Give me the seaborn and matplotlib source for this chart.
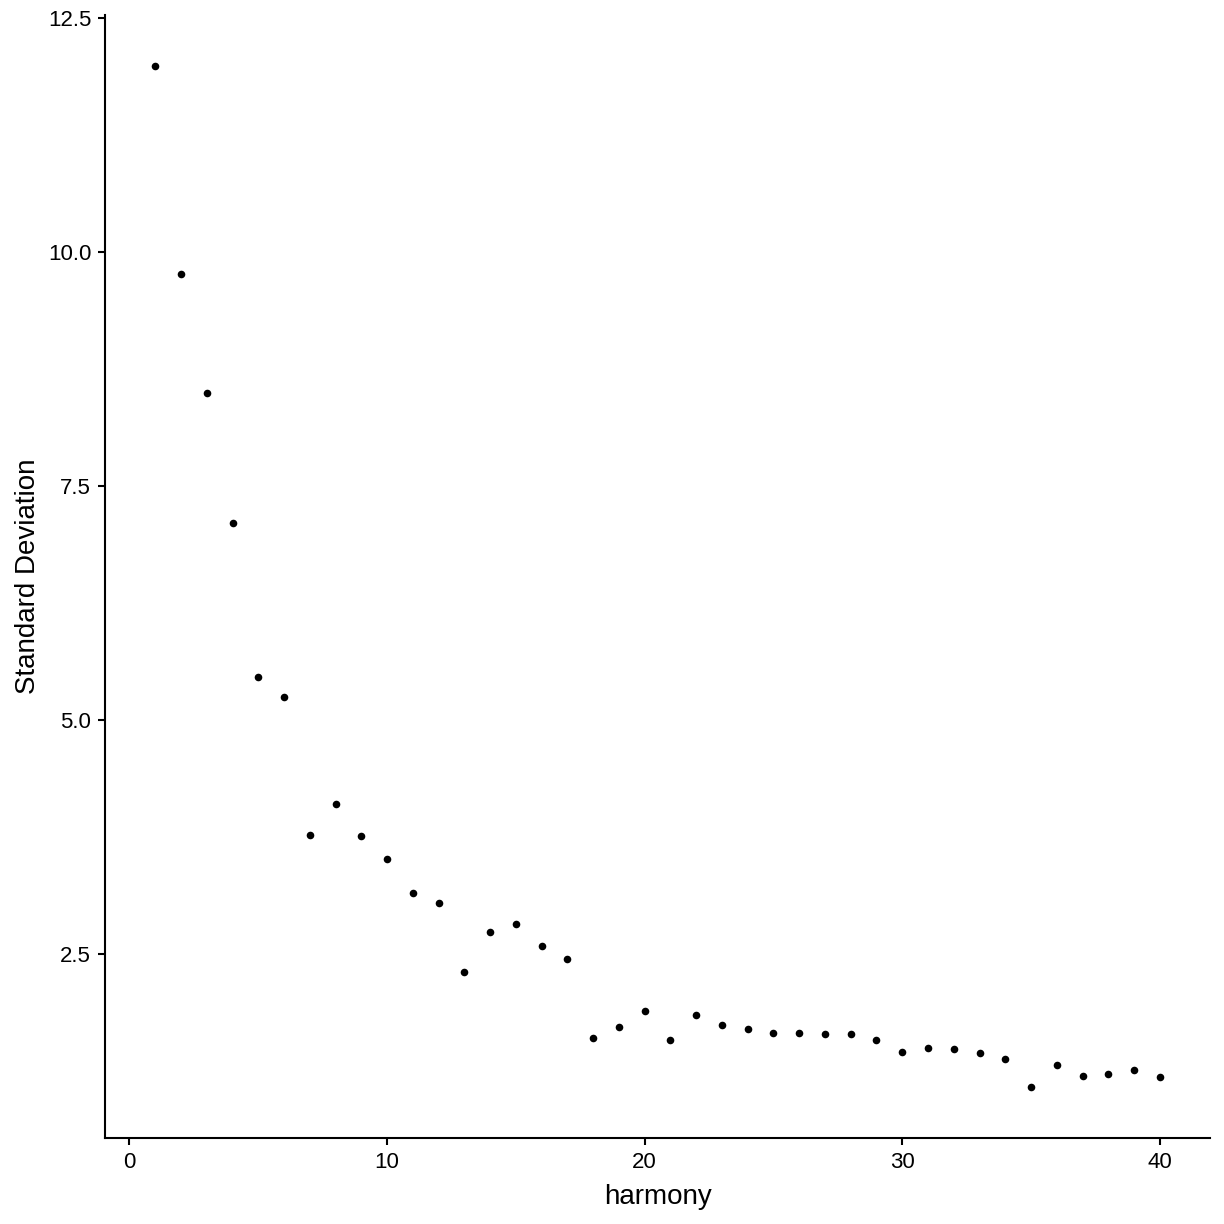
import matplotlib
matplotlib.use("Agg")
import matplotlib.pyplot as plt
import seaborn as sns
import pandas as pd

dims = list(range(1, 41))
stdev = [11.99, 9.77, 8.49, 7.10, 5.46, 5.25, 3.77, 4.10, 3.76, 3.52,
         3.15, 3.05, 2.31, 2.73, 2.82, 2.58, 2.45, 1.60, 1.72, 1.89,
         1.58, 1.85, 1.74, 1.70, 1.66, 1.66, 1.64, 1.64, 1.58, 1.45,
         1.50, 1.48, 1.44, 1.38, 1.08, 1.31, 1.20, 1.22, 1.26, 1.19]
xticks = [0, 10, 20, 30, 40]
yticks = [2.5, 5.0, 7.5, 10.0, 12.5]
ytick_labels = ["2.5", "5.0", "7.5", "10.0", "12.5"]

sns.set_style("ticks")
plt.rcParams['font.family'] = ['Liberation Sans', 'DejaVu Sans']

df = pd.DataFrame({"harmony": dims, "Standard Deviation": stdev})

fig = plt.figure(figsize=(12.24, 12.24), dpi=100)
ax = fig.add_axes([0.0858, 0.0703, 0.9886 - 0.0858, 0.988 - 0.0703])
sns.scatterplot(data=df, x="harmony", y="Standard Deviation", ax=ax,
                color="black", s=30, linewidth=0, edgecolor=None)

xr = max(dims) - min(dims)
ax.set_xlim(min(dims) - 0.05 * xr, max(dims) + 0.05 * xr)
yr = max(stdev) - min(stdev)
ax.set_ylim(min(stdev) - 0.05 * yr, max(stdev) + 0.05 * yr)
ax.set_xticks(xticks)
ax.set_xticklabels([str(t) for t in xticks])
ax.set_yticks(yticks)
ax.set_yticklabels(ytick_labels)

for side in ["top", "right"]:
    ax.spines[side].set_visible(False)
for side in ["left", "bottom"]:
    ax.spines[side].set_linewidth(1.5)
    ax.spines[side].set_color("black")
ax.tick_params(axis="both", direction="out", length=5, width=1.5,
               color="black", labelsize=16, labelcolor="black", pad=5)
ax.set_xlabel("harmony", fontsize=20, color="black", labelpad=8)
ax.set_ylabel("Standard Deviation", fontsize=20, color="black", labelpad=5)

fig.savefig("out.png", dpi=100, facecolor="white")
